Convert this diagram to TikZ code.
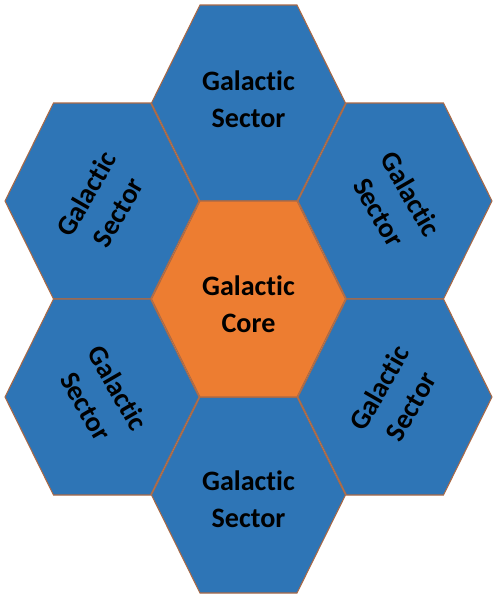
\documentclass[tikz,border=0pt]{standalone}
\usepackage{fontspec}
\setmainfont[Ligatures=NoCommon]{Carlito}
\usetikzlibrary{positioning}

\definecolor{sectorblue}{RGB}{46,117,182}
\definecolor{coreorange}{RGB}{237,125,49}
\definecolor{hexedge}{RGB}{170,105,70}

\begin{document}
\begin{tikzpicture}[
    x=0.02cm, y=-0.02cm,
    hexcell/.style={draw=hexedge, line width=0.6pt, fill=sectorblue},
    corecell/.style={hexcell, fill=coreorange},
    hexlabel/.style={align=center, font=\fontsize{16}{21}\selectfont\bfseries, text=black}
]
\useasboundingbox (0,0) rectangle (500,600);

% sectors around the core
\foreach \name/\cx/\cy/\ty/\ang in {top/248.5/103/99/0, upleft/102/201/203/60, upright/395/201/203/-60,
                                    lowleft/102/397/397/-60, lowright/395/397/397/60, bottom/248.5/495/499/0}{
  \path[hexcell] (\cx+97,\cy) -- (\cx+48.5,\cy+98) -- (\cx-48.5,\cy+98)
                 -- (\cx-97,\cy) -- (\cx-48.5,\cy-98) -- (\cx+48.5,\cy-98) -- cycle;
  \node[hexlabel, rotate=\ang] (\name) at (\cx,\ty) {Galactic\\Sector};
}

% core
\path[corecell] (345.5,299) -- (297,397) -- (200,397)
                -- (151.5,299) -- (200,201) -- (297,201) -- cycle;
\node[hexlabel] (core) at (248.5,304) {Galactic\\Core};
\end{tikzpicture}
\end{document}
